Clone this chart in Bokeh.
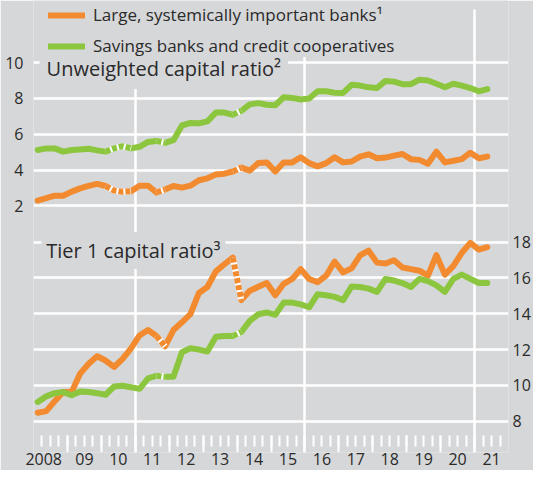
from bokeh.plotting import figure
from bokeh.models import (Range1d, LinearAxis, FixedTicker, Grid, Legend, LegendItem, Label,
                          BoxAnnotation)
from bokeh.embed import file_html
from bokeh.resources import INLINE

# ---------------- data ----------------
years = list(range(2008, 2022))
year_labels = ["2008", "09", "10", "11", "12", "13", "14", "15", "16", "17", "18", "19", "20", "21"]
# quarterly observations 2008 Q1 ... 2021 Q2 (plotted mid-quarter)
quarter_x = [yr + (q - 0.5) / 4 for yr in years for q in (1, 2, 3, 4)][:54]

unweighted_large = [2.30, 2.44, 2.57, 2.57, 2.80, 2.98, 3.12, 3.23, 3.11, 2.86,
                    2.79, 2.82, 3.13, 3.13, 2.75, 2.91, 3.11, 3.02, 3.13, 3.43,
                    3.54, 3.75, 3.80, 3.92, 4.14, 3.97, 4.40, 4.43, 3.92, 4.43,
                    4.43, 4.72, 4.39, 4.21, 4.39, 4.72, 4.43, 4.48, 4.75, 4.88,
                    4.66, 4.70, 4.81, 4.90, 4.61, 4.57, 4.35, 5.03, 4.43, 4.52,
                    4.61, 4.97, 4.66, 4.75]
unweighted_savings = [5.12, 5.21, 5.21, 5.03, 5.12, 5.15, 5.19, 5.10, 5.03, 5.21,
                      5.34, 5.21, 5.30, 5.57, 5.63, 5.52, 5.67, 6.49, 6.63, 6.61,
                      6.72, 7.21, 7.21, 7.09, 7.31, 7.67, 7.74, 7.65, 7.62, 8.07,
                      8.03, 7.94, 8.00, 8.40, 8.40, 8.32, 8.31, 8.76, 8.72, 8.62,
                      8.58, 8.98, 8.94, 8.80, 8.80, 9.05, 9.00, 8.82, 8.63, 8.82,
                      8.72, 8.58, 8.40, 8.52]
tier1_large = [8.48, 8.57, 9.12, 9.63, 9.63, 10.66, 11.21, 11.63, 11.39, 11.03,
               11.48, 12.07, 12.79, 13.09, 12.76, 12.18, 13.09, 13.52, 13.98, 15.16,
               15.49, 16.36, 16.76, 17.13, 14.76, 15.28, 15.50, 15.71, 15.03, 15.67,
               15.94, 16.49, 15.94, 15.76, 16.12, 16.91, 16.31, 16.53, 17.25, 17.52,
               16.85, 16.80, 16.98, 16.58, 16.49, 16.40, 16.12, 17.27, 16.18, 16.67,
               17.40, 17.95, 17.58, 17.71]
tier1_savings = [9.08, 9.39, 9.57, 9.63, 9.45, 9.66, 9.63, 9.57, 9.48, 9.94,
                 9.98, 9.90, 9.81, 10.39, 10.54, 10.48, 10.48, 11.85, 12.07, 12.00,
                 11.89, 12.71, 12.76, 12.76, 12.98, 13.60, 13.97, 14.07, 13.94, 14.62,
                 14.62, 14.52, 14.36, 15.09, 15.03, 14.94, 14.76, 15.52, 15.49, 15.40,
                 15.22, 15.94, 15.85, 15.71, 15.49, 15.94, 15.82, 15.58, 15.22, 15.94,
                 16.18, 15.94, 15.71, 15.72]

top_ticks = [2, 4, 6, 8, 10]
bottom_ticks = [8, 10, 12, 14, 16, 18]
# structural breaks (index ranges drawn dotted)
breaks_top = [(8, 11), (14, 15), (23, 24)]
breaks_bottom = [(14, 15), (23, 24)]

series_names = ["Large, systemically important banks\u00b9",
                "Savings banks and credit cooperatives"]
title_top = "Unweighted capital ratio\u00b2"
title_bottom = "Tier 1 capital ratio\u00b3"

# ---------------- style ----------------
BG = "#d6d7d9"
ORANGE = "#f28b30"
GREEN = "#8cc63f"
TXT = "#2a2a2a"
FONT = "Open Sans"
LW = 6

# y-ranges: frame spans from the top edge down to the end of the year ticks
TOP_RANGE = (-11.77, 13.47)      # unweighted panel units (left axis)
BOT_RANGE = (6.26, 31.47)        # tier 1 panel units (right axis)
GRID_TOP = 12.96                 # where the vertical grid lines start
TICK_TOP = -10.82                # where the x tick marks start (top-panel units)
Q_TICK_END = -11.43
Y_TICK_END = -11.77

p = figure(width=533, height=470, output_backend="svg", toolbar_location=None,
           x_range=Range1d(2008, 2022), y_range=Range1d(*TOP_RANGE),
           min_border_left=33, min_border_right=23, min_border_top=0, min_border_bottom=18,
           background_fill_color=BG, border_fill_color=BG, outline_line_color=None)
p.extra_y_ranges = {"t1": Range1d(*BOT_RANGE)}

# left axis (top panel)
ya = p.yaxis[0]
ya.ticker = FixedTicker(ticks=top_ticks)
ya.axis_line_color = None
ya.major_tick_out = 0
ya.major_tick_in = 0
ya.minor_tick_out = 0
ya.minor_tick_in = 0
ya.major_label_standoff = 10
ya.major_label_text_font = FONT
ya.major_label_text_font_size = "16px"
ya.major_label_text_color = TXT

# right axis (bottom panel)
yr = LinearAxis(y_range_name="t1", ticker=FixedTicker(ticks=bottom_ticks),
                axis_line_color=None, major_tick_out=0, major_tick_in=0,
                minor_tick_out=0, minor_tick_in=0, major_label_standoff=4,
                major_label_text_font=FONT, major_label_text_font_size="16px",
                major_label_text_color=TXT)
p.add_layout(yr, "right")

# x axis: year labels centred in each year
label_pos = [y_ + 0.5 for y_ in years]
label_pos[0] = 2008.3
xa = p.xaxis[0]
xa.ticker = FixedTicker(ticks=label_pos)
xa.major_label_overrides = {pos: lab for pos, lab in zip(label_pos, year_labels)}
xa.axis_line_color = None
xa.major_tick_out = 0
xa.major_tick_in = 0
xa.minor_tick_out = 0
xa.minor_tick_in = 0
xa.major_label_standoff = 0
xa.major_label_text_font = FONT
xa.major_label_text_font_size = "16px"
xa.major_label_text_color = TXT

has_cb = "cross_bounds" in Grid.properties()

# grids
p.xgrid.ticker = FixedTicker(ticks=[2011, 2016, 2021])
p.xgrid.grid_line_color = "white"
p.xgrid.grid_line_width = 2.5
if has_cb:
    p.xgrid.cross_bounds = (Y_TICK_END, GRID_TOP)
p.ygrid.ticker = FixedTicker(ticks=top_ticks)
p.ygrid.grid_line_color = "white"
p.ygrid.grid_line_width = 2.5
g2 = Grid(dimension=1, y_range_name="t1", ticker=FixedTicker(ticks=bottom_ticks),
          grid_line_color="white", grid_line_width=2.5)
p.add_layout(g2)

# white tick marks below the lower panel: quarters short, year boundaries long
quarter_ticks = [y_ + k / 4 for y_ in years for k in range(4)] + [2022]
year_ticks = years[1:]
if has_cb:
    p.add_layout(Grid(dimension=0, ticker=FixedTicker(ticks=quarter_ticks),
                      cross_bounds=(Q_TICK_END, TICK_TOP),
                      grid_line_color="white", grid_line_width=2))
    p.add_layout(Grid(dimension=0, ticker=FixedTicker(ticks=year_ticks),
                      cross_bounds=(Y_TICK_END, TICK_TOP),
                      grid_line_color="white", grid_line_width=2))
else:
    for t in quarter_ticks:
        p.add_layout(BoxAnnotation(left=t, right=t, bottom=Q_TICK_END, top=TICK_TOP,
                                   fill_alpha=0, line_color="white", line_width=1))
    for t in year_ticks:
        p.add_layout(BoxAnnotation(left=t, right=t, bottom=Y_TICK_END, top=TICK_TOP,
                                   fill_alpha=0, line_color="white", line_width=1))

# panel titles (under the lines, over the grid)
lab1 = Label(x=2008.18, y=9.67, text=title_top, text_font=FONT, text_font_size="20px",
             text_color=TXT, text_baseline="middle", text_align="left",
             background_fill_color=BG, background_fill_alpha=1.0, padding=7, level="underlay")
lab2 = Label(x=2008.23, y=17.53, y_range_name="t1", text=title_bottom, text_font=FONT,
             text_font_size="20px", text_color=TXT, text_baseline="middle", text_align="left",
             background_fill_color=BG, background_fill_alpha=1.0, padding=5, level="underlay")
p.add_layout(lab1)
p.add_layout(lab2)


def draw(vals, breaks, color, rng):
    sx, sy, dx, dy = [], [], [], []
    start = 0
    for a, b in breaks:
        sx.append(quarter_x[start:a + 1]); sy.append(vals[start:a + 1])
        dx.append(quarter_x[a:b + 1]); dy.append(vals[a:b + 1])
        start = b
    sx.append(quarter_x[start:]); sy.append(vals[start:])
    r = p.multi_line(sx, sy, line_color=color, line_width=LW, line_join="round",
                     line_cap="round", y_range_name=rng)
    p.multi_line(dx, dy, line_color="white", line_width=LW, line_join="round", y_range_name=rng)
    p.multi_line(dx, dy, line_color=color, line_width=LW, line_dash="5 2", y_range_name=rng)
    return r


r_o1 = draw(unweighted_large, breaks_top, ORANGE, "default")
r_g1 = draw(unweighted_savings, breaks_top, GREEN, "default")
draw(tier1_large, breaks_bottom, ORANGE, "t1")
draw(tier1_savings, breaks_bottom, GREEN, "t1")

legend = Legend(items=[LegendItem(label=series_names[0], renderers=[r_o1]),
                       LegendItem(label=series_names[1], renderers=[r_g1])],
                location=(15, 395), orientation="vertical",
                label_text_font=FONT, label_text_font_size="17px", label_text_color=TXT,
                glyph_width=37, glyph_height=18, label_height=18, label_standoff=8,
                spacing=8, padding=0, margin=0,
                background_fill_color=BG, background_fill_alpha=1.0, border_line_color=None)
p.add_layout(legend)

open("out.html", "w").write(file_html(p, INLINE))
